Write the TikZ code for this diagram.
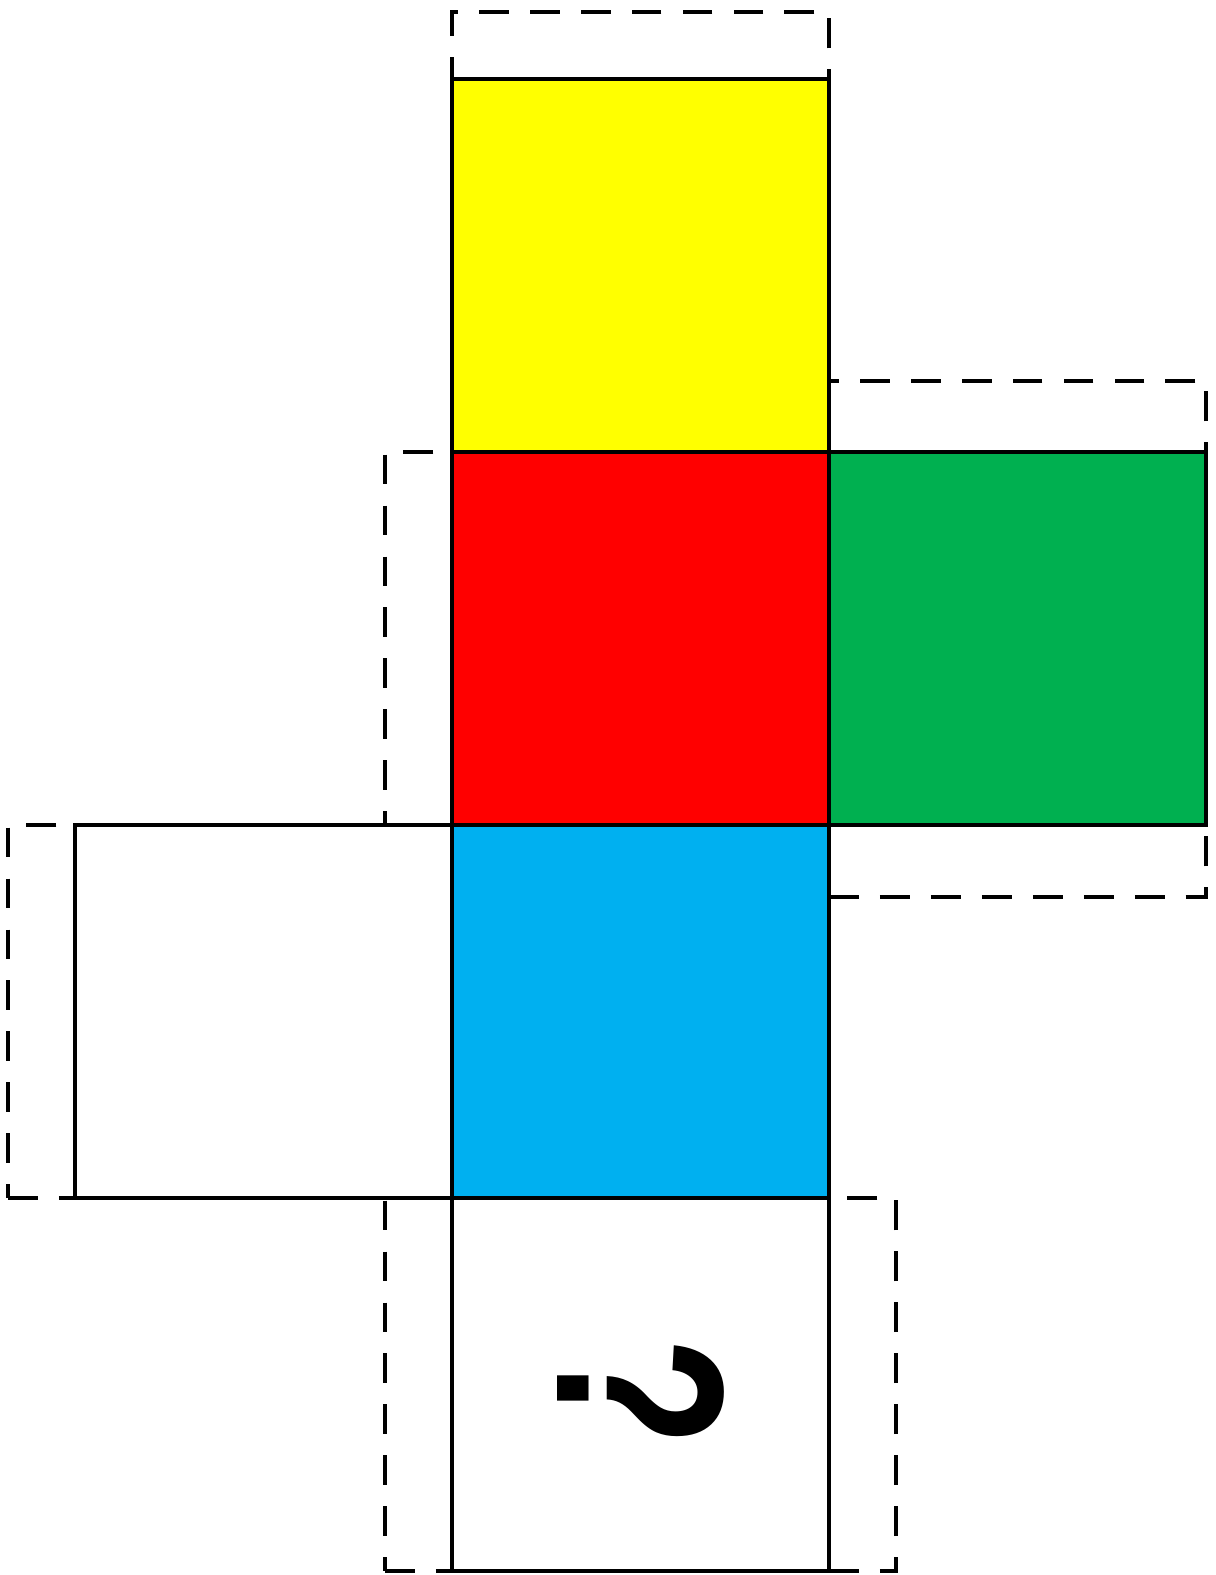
\documentclass[tikz,border=0pt]{standalone}
\usepackage{fontspec}
\newfontfamily\qfont{Liberation Sans}
\usetikzlibrary{positioning}
\definecolor{netyellow}{RGB}{255,255,0}
\definecolor{netred}{RGB}{255,0,0}
\definecolor{netgreen}{RGB}{0,176,80}
\definecolor{netblue}{RGB}{0,176,240}

\begin{document}
\begin{tikzpicture}[
  face/.style={draw, line width=1.2pt, minimum width=3.77cm, minimum height=3.73cm, inner sep=0pt, outer sep=0pt},
  flaph/.style={draw, dash pattern=on 8.5pt off 6pt, line width=1.2pt, minimum width=3.77cm, minimum height=0.67cm, inner sep=0pt, outer sep=0pt},
  flapv/.style={flaph, minimum width=0.67cm, minimum height=3.73cm},
  node distance=0pt]
  \useasboundingbox (0,0) rectangle (12.16,15.75);
  % faces of the net
  \node[face, fill=netyellow, anchor=north west] (top) at (4.52,14.96) {};
  \node[face, fill=netred, below=of top] (front) {};
  \node[face, fill=netgreen, right=of front] (right) {};
  \node[face, fill=netblue, below=of front] (bottom) {};
  \node[face, fill=white, left=of bottom] (left) {};
  \node[face, fill=white, below=of bottom] (back) {};
  % glue flaps
  \node[flaph, above=of top] (ftop) {};
  \node[flaph, minimum height=0.71cm, above=of right] (frighta) {};
  \node[flaph, minimum height=0.72cm, below=of right] (frightb) {};
  \node[flapv, left=of front] (ffront) {};
  \node[flapv, left=of left] (fleft) {};
  \node[flapv, left=of back] (fbacka) {};
  \node[flapv, right=of back] (fbackb) {};
  % unknown face
  \node[rotate=-90, xscale=0.75, font={\qfont\bfseries\fontsize{68pt}{68pt}\selectfont}] (qmark) at ([yshift=-0.08cm]back.center) {?};
\end{tikzpicture}
\end{document}
